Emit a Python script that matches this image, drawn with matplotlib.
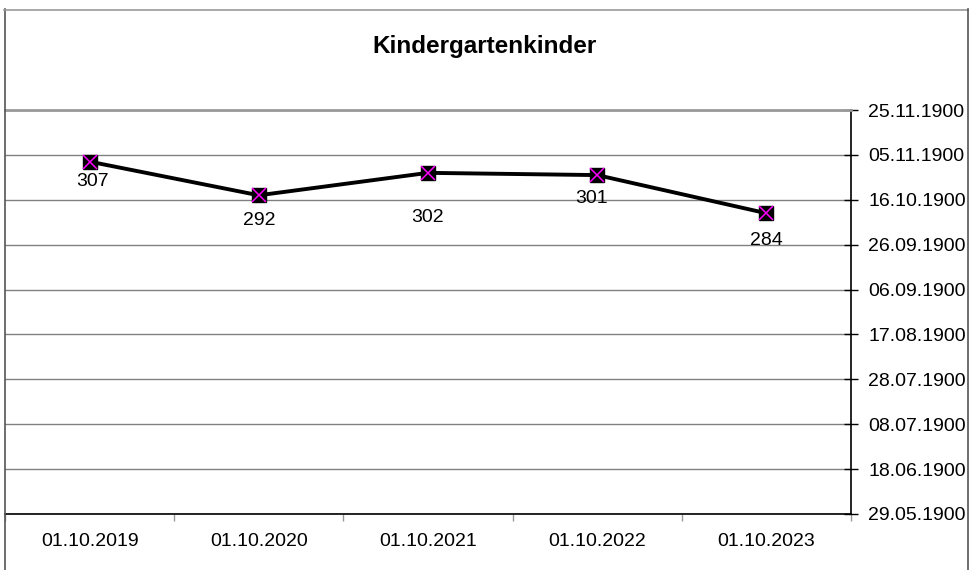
import matplotlib
matplotlib.use("Agg")
import matplotlib.pyplot as plt
from matplotlib.lines import Line2D
import datetime as dt

categories = ["01.10.2019", "01.10.2020", "01.10.2021", "01.10.2022", "01.10.2023"]
values = [307, 292, 302, 301, 284]
# y axis is a numeric axis formatted as Excel serial dates
y_ticks = list(range(150, 331, 20))
title = "Kindergartenkinder"

# label offsets in pixels (dx, dy below point)
label_offsets = [(3, 20), (0, 25), (0, 45), (-6, 23), (0, 27)]

def excel_date(n):
    # Excel 1900 date system (with the fictitious 29.02.1900)
    base = dt.date(1899, 12, 31)
    if n >= 60:
        n -= 1
    d = base + dt.timedelta(days=n)
    return d.strftime("%d.%m.%Y")

plt.rcParams['font.family'] = ['Liberation Sans', 'DejaVu Sans']

W, H = 971, 570
fig = plt.figure(figsize=(W / 100, H / 100), dpi=100)
px = 72 / 100

L, R, T, B = 5, 851, 110, 514
ax = fig.add_axes([L / W, 1 - B / H, (R - L) / W, (B - T) / H])

x = list(range(len(categories)))
ax.set_xlim(-0.5, len(categories) - 0.5)
ax.set_ylim(y_ticks[0], y_ticks[-1])

ax.yaxis.tick_right()
ax.set_yticks(y_ticks)
ax.set_yticklabels([excel_date(v) for v in y_ticks], fontsize=14)
ax.tick_params(axis='y', direction='inout', length=10, width=1, color='black', pad=7.5)
ax.grid(axis='y', color='#808080', linewidth=1)
ax.set_axisbelow(True)

ax.set_xticks([i - 0.5 for i in range(len(categories) + 1)])
ax.set_xticklabels([])
ax.set_xticks(x, minor=True)
ax.set_xticklabels(categories, minor=True, fontsize=14)
ax.tick_params(axis='x', which='major', direction='out', length=5, color='#999999', width=1)
ax.tick_params(axis='x', which='minor', length=0, pad=14)

for s in ['left']:
    ax.spines[s].set_visible(False)
ax.spines['top'].set_color('#999999')
ax.spines['top'].set_linewidth(2)
ax.spines['bottom'].set_color('black')
ax.spines['bottom'].set_linewidth(1.2)
ax.spines['right'].set_color('black')
ax.spines['right'].set_linewidth(1.2)

ax.plot(x, values, color='black', linewidth=2.8, zorder=3, clip_on=False)
ax.plot(x, values, linestyle='none', marker='s', markersize=10.5,
        markerfacecolor='black', markeredgecolor='black', zorder=4, clip_on=False)
ax.plot(x, values, linestyle='none', marker='x', markersize=10,
        markeredgecolor='#ff00ff', markeredgewidth=1.1, zorder=5, clip_on=False)

for xi, v, (dx, dy) in zip(x, values, label_offsets):
    ax.annotate(str(v), (xi, v), xytext=(dx * px, -dy * px), textcoords='offset points',
                ha='center', va='center', fontsize=14, color='black', zorder=6)

fig.text(484 / W, 1 - 46 / H, title, ha='center', va='center', fontsize=17.5, fontweight='bold')

# chart area border
fig.add_artist(Line2D([4.5 / W, 4.5 / W], [0, 1 - 9 / H], transform=fig.transFigure, color='#555555', linewidth=1.2))
fig.add_artist(Line2D([4 / W, 968 / W], [1 - 9.5 / H, 1 - 9.5 / H], transform=fig.transFigure, color='#999999', linewidth=1.2))
fig.add_artist(Line2D([968 / W, 968 / W], [0, 1 - 9 / H], transform=fig.transFigure, color='#555555', linewidth=1.2))

fig.savefig("out.png", dpi=100)
